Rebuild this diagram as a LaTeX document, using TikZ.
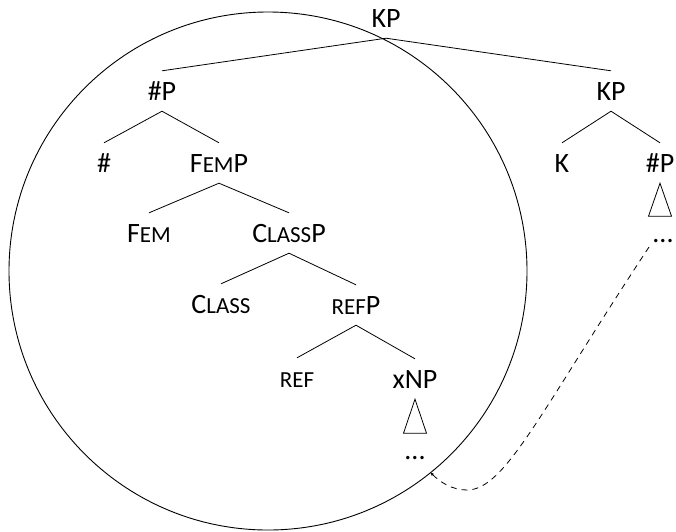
\documentclass[tikz,border=0pt]{standalone}
\usepackage{fontspec}
\setmainfont{Carlito}
\usepackage{tikz}
\usetikzlibrary{arrows.meta}
\newcommand{\smc}[1]{{\fontsize{23}{23}\selectfont #1}}

\begin{document}
\begin{tikzpicture}[
    x=1pt, y=-1pt,
    cat/.style={inner xsep=0pt, inner ysep=11pt, text height=18pt, text depth=0pt, anchor=base, font=\fontsize{28}{32}\selectfont},
    dotsnode/.style={inner sep=0pt, anchor=base, font=\fontsize{28}{32}\selectfont},
    branch/.style={line width=0.8pt},
    roof/.style={line width=0.8pt},
    link/.style={dashed, dash pattern=on 6pt off 5pt, line width=0.8pt, -{Latex[length=4pt, width=3pt]}}
]
    \useasboundingbox (0,0) rectangle (676,531);

    % Top
    \node[cat] (kp) at (386,27) {KP};

    % Left subtree
    \node[cat] (numP) at (162,100) {\#P};
    \node[cat] (num) at (104,172) {\#};
    \node[cat] (femP) at (219,172) {F\smc{EM}P};
    \node[cat] (fem) at (149,242) {F\smc{EM}};
    \node[cat] (classP) at (289,242) {C\smc{LASS}P};
    \node[cat] (class) at (221,313) {C\smc{LASS}};
    \node[cat] (refP) at (356,314) {\smc{REF}P};
    \node[cat] (ref) at (297,387) {\smc{REF}};
    \node[cat] (xnp) at (415,388) {xNP};
    \node[dotsnode] (dotsL) at (415,459) {...};

    % Right subtree
    \node[cat] (kpR) at (611,100) {KP};
    \node[cat] (k) at (562,172) {K};
    \node[cat] (numPR) at (660,172) {\#P};
    \node[dotsnode] (dotsR) at (663,242) {...};

    % Branches
    \draw[branch] (kp.south) -- (numP.north);
    \draw[branch] (kp.south) -- (kpR.north);
    \draw[branch] (numP.south) -- (num.north);
    \draw[branch] (numP.south) -- (femP.north);
    \draw[branch] (femP.south) -- (fem.north);
    \draw[branch] (femP.south) -- (classP.north);
    \draw[branch] (classP.south) -- (class.north);
    \draw[branch] (classP.south) -- (refP.north);
    \draw[branch] (refP.south) -- (ref.north);
    \draw[branch] (refP.south) -- (xnp.north);
    \draw[branch] (kpR.south) -- (k.north);
    \draw[branch] (kpR.south) -- (numPR.north);

    % Triangles
    \draw[roof] (xnp.south) -- ++(-11.5,34) -- ++(23,0) -- cycle;
    \draw[roof] (numPR.south) -- ++(-11.5,33) -- ++(23,0) -- cycle;

    % Circle round the #P
    \draw[line width=0.9pt] (268,271) circle[radius=259];

    % Dashed link
    \coordinate (lift) at (649,247);
    \coordinate (land) at (430,472);
    \draw[link] (lift) .. controls (540,412) and (505,490) .. (467,490)
        .. controls (452,490) and (440,482) .. (land);
\end{tikzpicture}
\end{document}
